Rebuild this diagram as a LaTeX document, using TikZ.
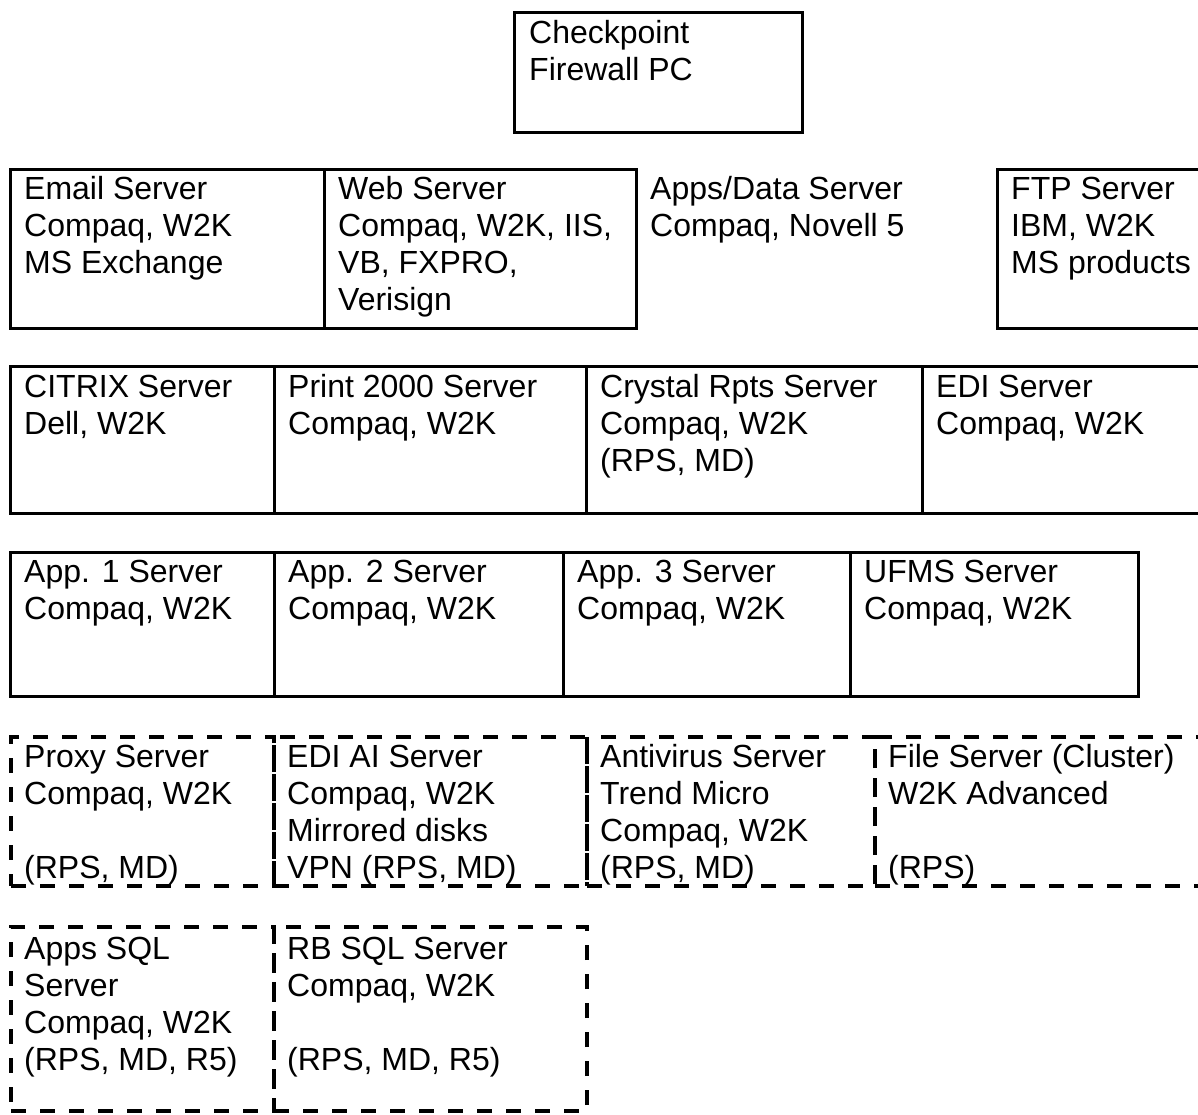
\documentclass[tikz,border=0pt]{standalone}
\usepackage{fontspec}
\setmainfont{Liberation Sans}

\tikzset{
Srv/.style={draw=black, line width=2.5pt, anchor=north west, inner sep=0pt},
SrvDash/.style={Srv, line width=4pt, dash pattern=on 15pt off 14pt},
SrvText/.style={anchor=north west, align=left, inner sep=0pt, font=\fontsize{32}{37}\selectfont},
}

\begin{document}
\begin{tikzpicture}[x=1pt,y=-1pt]
	\useasboundingbox (0,0) rectangle (1198,1114);

	% firewall
	\node[Srv, minimum width=288pt, minimum height=120pt] (Checkpoint) at (513,11) {};
	\node[SrvText] (CheckpointT) at ([shift={(16,6)}]Checkpoint.north west) {\strut Checkpoint\\Firewall PC};

	% first row
	\foreach \nm/\x/\w/\txt in {Email/9/314/{Email Server\\Compaq, W2K\\MS Exchange},
		Web/323/312/{Web Server\\Compaq, W2K, IIS,\\VB, FXPRO,\\Verisign},
		FTP/996/230/{FTP Server\\IBM, W2K\\MS products}}
	{
		\node[Srv, minimum width=\w pt, minimum height=159pt] (\nm) at (\x,168) {};
		\node[SrvText] (\nm T) at ([shift={(15,5)}]\nm.north west) {\strut\txt};
	}
	\node[SrvText] (AppsData) at (650,173) {\strut Apps/Data Server\\Compaq, Novell 5};

	% second row
	\foreach \nm/\x/\w/\txt in {Citrix/9/264/{CITRIX Server\\Dell, W2K},
		Print/273/312/{Print 2000 Server\\Compaq, W2K},
		Crystal/585/336/{Crystal Rpts Server\\Compaq, W2K\\(RPS, MD)},
		EDI/921/300/{EDI Server\\Compaq, W2K}}
	{
		\node[Srv, minimum width=\w pt, minimum height=147pt] (\nm) at (\x,365) {};
		\node[SrvText] (\nm T) at ([shift={(15,6)}]\nm.north west) {\strut\txt};
	}

	% third row
	\foreach \nm/\x/\w/\txt in {AppA/9/264/{App. 1 Server\\Compaq, W2K},
		AppB/273/289/{App. 2 Server\\Compaq, W2K},
		AppC/562/287/{App. 3 Server\\Compaq, W2K},
		UFMS/849/288/{UFMS Server\\Compaq, W2K}}
	{
		\node[Srv, minimum width=\w pt, minimum height=144pt] (\nm) at (\x,551) {};
		\node[SrvText] (\nm T) at ([shift={(15,5)}]\nm.north west) {\strut\txt};
	}

	% fourth row (dashed)
	\foreach \nm/\x/\w/\txt in {Proxy/9/263/{Proxy Server\\Compaq, W2K\\[37pt](RPS, MD)},
		EDIAI/272/313/{EDI AI Server\\Compaq, W2K\\Mirrored disks\\VPN (RPS, MD)},
		Antivirus/585/288/{Antivirus Server\\Trend Micro\\Compaq, W2K\\(RPS, MD)},
		FileSrv/873/340/{File Server (Cluster)\\W2K Advanced\\[37pt](RPS)}}
	{
		\node[SrvDash, minimum width=\w pt, minimum height=149pt] (\nm) at (\x,735) {};
		\node[SrvText] (\nm T) at ([shift={(15,6)}]\nm.north west) {\strut\txt};
	}

	% fifth row (dashed)
	\foreach \nm/\x/\w/\txt in {AppsSQL/9/263/{Apps SQL\\Server\\Compaq, W2K\\(RPS, MD, R5)},
		RBSQL/272/313/{RB SQL Server\\Compaq, W2K\\[37pt](RPS, MD, R5)}}
	{
		\node[SrvDash, minimum width=\w pt, minimum height=184pt] (\nm) at (\x,925) {};
		\node[SrvText] (\nm T) at ([shift={(15,8)}]\nm.north west) {\strut\txt};
	}
\end{tikzpicture}
\end{document}
